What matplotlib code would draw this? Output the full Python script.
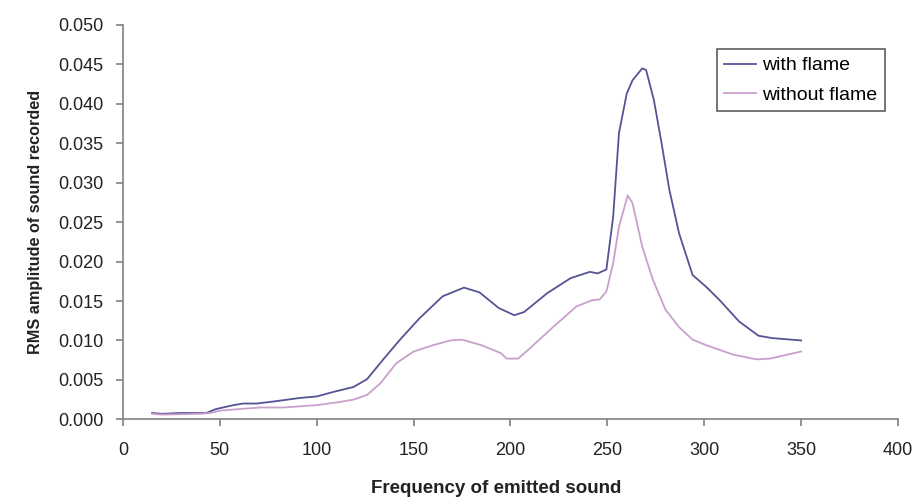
import numpy as np
import matplotlib
matplotlib.use('Agg')
import matplotlib.pyplot as plt

plt.rcParams['font.family'] = ['Liberation Sans', 'DejaVu Sans']

# frequency / amplitude readings, with flame
freq_with = [15, 20, 30, 43, 48, 57, 62, 69, 79, 91, 100, 109, 119, 126, 134,
             143, 153, 165, 176, 184, 194, 202, 207, 219, 231, 241, 245, 249.5,
             253, 256, 260, 263, 268, 270, 274, 278, 282, 287, 292, 294, 301,
             308, 318, 328, 335, 350]
amp_with = [0.0008, 0.0007, 0.0008, 0.0008, 0.0013, 0.0018, 0.0020, 0.0020,
            0.0023, 0.0027, 0.0029, 0.0035, 0.0041, 0.0051, 0.0075, 0.0101,
            0.0128, 0.0156, 0.0167, 0.0161, 0.0141, 0.0132, 0.0136, 0.0160,
            0.0179, 0.0187, 0.0185, 0.0190, 0.0257, 0.0363, 0.0413, 0.0430,
            0.0445, 0.0443, 0.0405, 0.0350, 0.0291, 0.0236, 0.0198, 0.0183,
            0.0168, 0.0151, 0.0124, 0.0106, 0.0103, 0.0100]

# without flame
freq_without = [15, 20, 40, 45, 50, 60, 71, 83, 100, 112, 119, 126, 133, 141,
                150, 160, 169, 175, 185, 195, 198, 204, 210, 222, 234, 242,
                246, 249.5, 253, 256, 260.5, 263, 268, 273.5, 280, 287, 294,
                301, 315, 327, 334, 350]
amp_without = [0.0007, 0.0006, 0.0007, 0.0008, 0.0011, 0.0013, 0.0015, 0.0015,
               0.0018, 0.0022, 0.0025, 0.0031, 0.0046, 0.0071, 0.0086, 0.0094,
               0.0100, 0.0101, 0.0094, 0.0084, 0.0077, 0.0077, 0.0090, 0.0117,
               0.0143, 0.0151, 0.0152, 0.0162, 0.0198, 0.0244, 0.0284, 0.0274,
               0.0219, 0.0177, 0.0139, 0.0117, 0.0101, 0.0094, 0.0082, 0.0076,
               0.0077, 0.0086]

fig = plt.figure(figsize=(9.15, 4.97), dpi=100)
ax = fig.add_axes([0.1344, 0.1563, 0.847, 0.7934])

ax.plot(freq_with, amp_with, color='#545494', lw=1.3, label='with flame')
ax.plot(freq_without, amp_without, color='#c9a0cc', lw=1.3, label='without flame')

ax.set_xlim(0, 400)
ax.set_ylim(0, 0.05)
ax.set_xticks(np.arange(0, 401, 50))
ax.set_yticks(np.arange(0, 0.0501, 0.005))
ax.yaxis.set_major_formatter(matplotlib.ticker.FormatStrFormatter('%.3f'))

for side in ['top', 'right']:
    ax.spines[side].set_visible(False)
for side in ['left', 'bottom']:
    ax.spines[side].set_color('#808080')
    ax.spines[side].set_linewidth(1.2)
ax.tick_params(axis='both', colors='#808080', labelcolor='#222222',
               labelsize=13, length=5, width=1.2, direction='out')
ax.tick_params(axis='y', pad=9)
ax.tick_params(axis='x', pad=11)

ax.set_xlabel('Frequency of emitted sound', fontsize=13.5, fontweight='bold',
              color='#222222', va='top')
ax.xaxis.set_label_coords(0.481, -0.155)
ax.set_ylabel('RMS amplitude of sound recorded', fontsize=11.7,
              fontweight='bold', color='#222222', va='center')
ax.yaxis.set_label_coords(-0.113, 0.5)

leg = ax.legend(loc='upper left', bbox_to_anchor=(0.766, 0.939), fontsize=14,
                frameon=True, fancybox=False, handlelength=1.65,
                handletextpad=0.3, borderpad=0.4, labelspacing=0.6,
                borderaxespad=0)
leg.get_frame().set_edgecolor('#333333')
leg.get_frame().set_linewidth(1.2)

fig.savefig('out.png', dpi=100)
